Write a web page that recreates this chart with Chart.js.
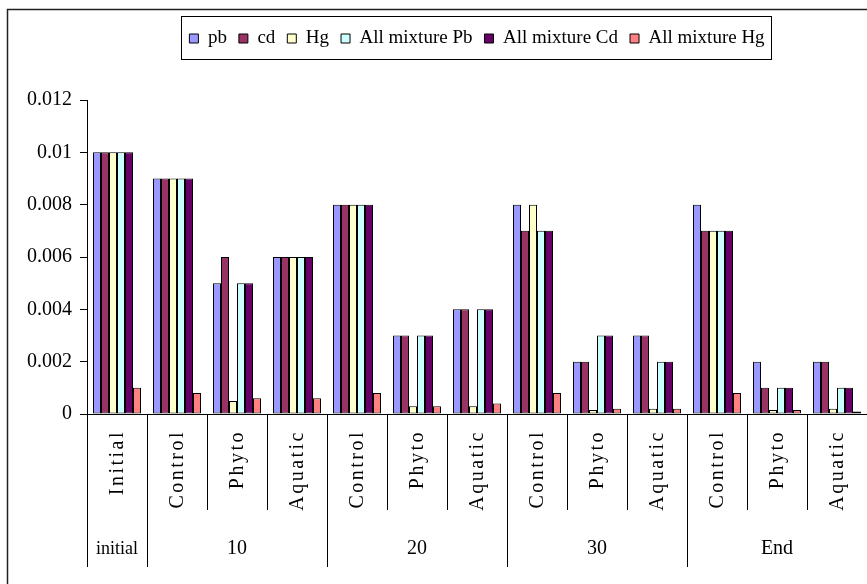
<!DOCTYPE html>
<html>
<head>
<meta charset="utf-8">
<script src="https://cdn.jsdelivr.net/npm/chart.js@4.4.1/dist/chart.umd.min.js"></script>
<style>
  html, body { margin: 0; padding: 0; background: #fff; }
  canvas { display: block; }
</style>
</head>
<body>
<canvas id="chart1" width="867" height="584"></canvas>
<script>
// categories (inner row) and groups (outer row)
var categories = ['Initial', 'Control', 'Phyto', 'Aquatic', 'Control', 'Phyto', 'Aquatic',
                  'Control', 'Phyto', 'Aquatic', 'Control', 'Phyto', 'Aquatic'];
var groups = ['initial', '10', '20', '30', 'End'];
var groupSpans = [1, 3, 3, 3, 3];

// series values
var pb    = [0.01, 0.009, 0.005, 0.006, 0.008, 0.003, 0.004, 0.008, 0.002, 0.003, 0.008, 0.002, 0.002];
var cd    = [0.01, 0.009, 0.006, 0.006, 0.008, 0.003, 0.004, 0.007, 0.002, 0.003, 0.007, 0.001, 0.002];
var hg    = [0.01, 0.009, 0.0005, 0.006, 0.008, 0.0003, 0.0003, 0.008, 0.00015, 0.0002, 0.007, 0.00015, 0.0002];
var mixPb = [0.01, 0.009, 0.005, 0.006, 0.008, 0.003, 0.004, 0.007, 0.003, 0.002, 0.007, 0.001, 0.001];
var mixCd = [0.01, 0.009, 0.005, 0.006, 0.008, 0.003, 0.004, 0.007, 0.003, 0.002, 0.007, 0.001, 0.001];
var mixHg = [0.001, 0.0008, 0.0006, 0.0006, 0.0008, 0.0003, 0.0004, 0.0008, 0.0002, 0.0002, 0.0008, 0.00015, 0.0001];

// y tick labels
var yTicks = ['0', '0.002', '0.004', '0.006', '0.008', '0.01', '0.012'];

var serif = "'Liberation Serif', 'Times New Roman', serif";
Chart.defaults.font.family = serif;
Chart.defaults.color = '#000';

// frame, legend box, and the two-level category axis
var excelAxis = {
  id: 'excelAxis',
  afterInit: function (chart) {
    // keep the legend row where it is, but push the plot area down
    var lg = chart.legend;
    if (lg) {
      var fit = lg.fit;
      lg.fit = function () {
        fit.call(this);
        this.height = 83;
      };
    }
  },
  afterDraw: function (chart) {
    var c = chart.ctx;
    var x = chart.scales.x;
    var area = chart.chartArea;
    var half = (x.getPixelForValue(1) - x.getPixelForValue(0)) / 2;

    c.save();
    // outer frame
    c.strokeStyle = '#222';
    c.lineWidth = 1.5;
    c.strokeRect(7.5, 9.5, 880, 600);

    // legend box
    var hb = chart.legend.legendHitBoxes;
    if (hb && hb.length) {
      var last = hb[hb.length - 1];
      var mid = hb[0].top + hb[0].height / 2;
      var lt = Math.round(mid - 23);
      var lb = Math.round(mid + 20);
      var ll = Math.round(hb[0].left - 8);
      var lr = Math.round(last.left + last.width + 6);
      c.strokeStyle = '#000';
      c.lineWidth = 1;
      c.strokeRect(ll + 0.5, lt + 0.5, lr - ll, lb - lt);
    }

    // inner separators + rotated labels
    c.strokeStyle = '#000';
    c.lineWidth = 1;
    c.fillStyle = '#000';
    var bottom = area.bottom;
    for (var i = 0; i <= categories.length; i++) {
      var px = Math.round(x.getPixelForValue(i) - half) + 0.5;
      c.beginPath();
      c.moveTo(px, bottom);
      c.lineTo(px, bottom + 96);
      c.stroke();
    }
    c.font = '20px ' + serif;
    c.letterSpacing = '2.5px';
    c.textAlign = 'right';
    c.textBaseline = 'middle';
    categories.forEach(function (lab, i) {
      c.save();
      c.translate(x.getPixelForValue(i) + 1, bottom + 16);
      c.rotate(-Math.PI / 2);
      c.fillText(lab, 0, 0);
      c.restore();
    });

    // outer group separators + labels
    c.letterSpacing = '0px';
    c.textAlign = 'center';
    var idx = 0;
    for (var g = 0; g < groups.length; g++) {
      var leftPx = x.getPixelForValue(idx) - half;
      var rightPx = x.getPixelForValue(idx + groupSpans[g] - 1) + half;
      var lx = Math.round(leftPx) + 0.5;
      c.beginPath();
      c.moveTo(lx, bottom);
      c.lineTo(lx, bottom + 153);
      c.stroke();
      c.font = (g === 0 ? '18px ' : '20px ') + serif;
      c.fillText(groups[g], (leftPx + rightPx) / 2, bottom + 135);
      idx += groupSpans[g];
    }
    c.restore();
  }
};

function series(label, data, color) {
  return {
    label: label,
    data: data,
    backgroundColor: color,
    borderColor: '#000',
    borderWidth: 1,
    borderSkipped: false,
    categoryPercentage: 0.8,
    barPercentage: 1.0
  };
}

var ctx = document.getElementById('chart1');
var chart1 = new Chart(ctx, {
  type: 'bar',
  data: {
    labels: categories,
    datasets: [
      series('pb', pb, '#9999FF'),
      series('cd', cd, '#993366'),
      series('Hg', hg, '#FFFFCC'),
      series('All mixture Pb', mixPb, '#CCFFFF'),
      series('All mixture Cd', mixCd, '#660066'),
      series('All mixture Hg', mixHg, '#FF8080')
    ]
  },
  options: {
    responsive: false,
    animation: false,
    layout: { padding: { top: 17, left: 7, right: 0, bottom: 0 } },
    plugins: {
      legend: {
        position: 'top',
        fullSize: false,
        labels: {
          boxWidth: 9,
          boxHeight: 9,
          padding: 12,
          font: { size: 19 }
        }
      },
      tooltip: { enabled: false }
    },
    scales: {
      x: {
        grid: { display: false },
        border: { display: true, color: '#000', width: 1 },
        ticks: { display: false },
        afterFit: function (s) { s.height = 170; }
      },
      y: {
        min: 0,
        max: 0.012,
        grid: { drawOnChartArea: false, drawTicks: true, tickLength: 7, color: '#000' },
        border: { display: true, color: '#000', width: 1 },
        ticks: {
          stepSize: 0.002,
          padding: 8,
          font: { size: 20 },
          callback: function (v, i) { return yTicks[i]; }
        },
        afterFit: function (s) { s.width = 80; }
      }
    }
  },
  plugins: [excelAxis]
});
</script>
</body>
</html>
